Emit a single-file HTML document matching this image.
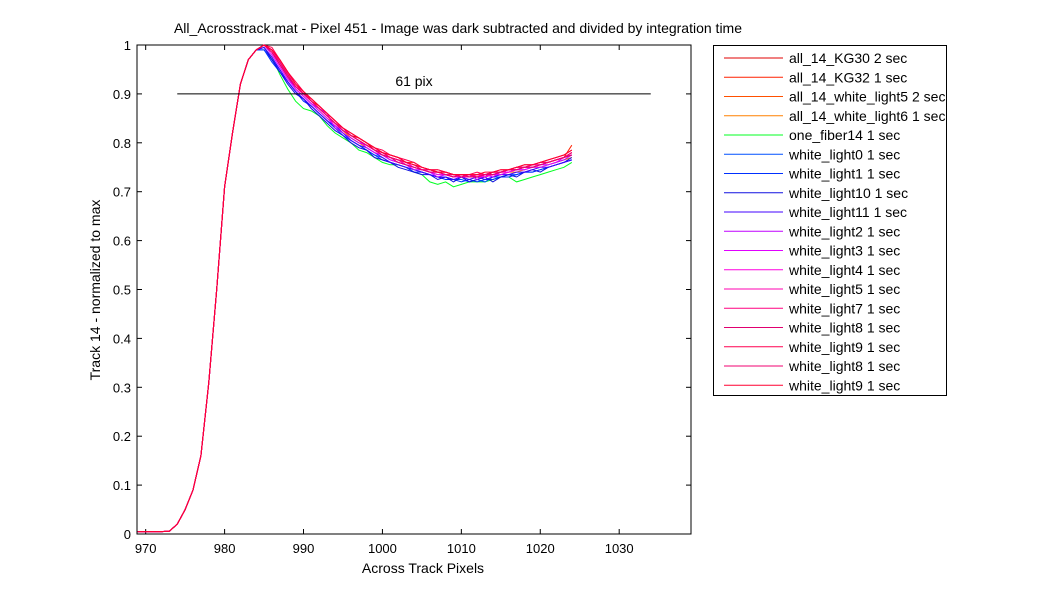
<!DOCTYPE html>
<html><head><meta charset="utf-8"><style>
html,body{margin:0;padding:0;background:#fff;}
svg{display:block;font-family:"Liberation Sans",Arial,sans-serif;}
</style></head><body>
<svg id="chart" width="1050" height="600" viewBox="0 0 1050 600">
<rect width="1050" height="600" fill="#fff"/>
<text x="458" y="33" font-size="14" text-anchor="middle">All_Acrosstrack.mat - Pixel 451 - Image was dark subtracted and divided by integration time</text>
<rect x="137" y="45" width="554" height="489" fill="#fff" stroke="#000" stroke-width="1"/>
<g id="ticks"></g>
<g id="series"></g>
<g id="annot"></g>
<text x="423" y="573" font-size="14" text-anchor="middle">Across Track Pixels</text>
<text x="100" y="290" font-size="14" text-anchor="middle" transform="rotate(-90 100 290)">Track 14 - normalized to max</text>
<rect x="713.5" y="45.5" width="233" height="350" fill="#fff" stroke="#000"/>
<g id="legend"></g>
</svg>
<script>
const xTicks=[970,980,990,1000,1010,1020,1030];
const yTicks=[0,0.1,0.2,0.3,0.4,0.5,0.6,0.7,0.8,0.9,1];
const yTickLabels=["0","0.1","0.2","0.3","0.4","0.5","0.6","0.7","0.8","0.9","1"];
const names=["all_14_KG30 2 sec","all_14_KG32 1 sec","all_14_white_light5 2 sec","all_14_white_light6 1 sec","one_fiber14 1 sec","white_light0 1 sec","white_light1 1 sec","white_light10 1 sec","white_light11 1 sec","white_light2 1 sec","white_light3 1 sec","white_light4 1 sec","white_light5 1 sec","white_light7 1 sec","white_light8 1 sec","white_light9 1 sec","white_light8 1 sec","white_light9 1 sec"];
const colors=["#e00000","#ff2000","#ff5000","#ff8000","#00ff20","#0050ff","#0030ff","#1010e0","#4000ff","#c000ff","#e000ff","#ff00e0","#ff00b0","#ff0080","#e00070","#ff0050","#f00070","#ff0030"];
const riseX=[969,970,971,972,973,974,975,976,977,978,979,980,981,982,983,984];
const rise=[0.005,0.005,0.005,0.005,0.006,0.02,0.05,0.09,0.16,0.31,0.5,0.71,0.82,0.92,0.97,0.99];
const tailStart=985;
const tails=[
[1.00,0.99,0.965,0.94,0.915,0.9,0.885,0.87,0.855,0.84,0.825,0.815,0.81,0.8,0.785,0.78,0.77,0.765,0.76,0.755,0.75,0.745,0.74,0.74,0.735,0.735,0.73,0.735,0.73,0.74,0.74,0.745,0.745,0.75,0.75,0.755,0.76,0.765,0.77,0.78],
[1.00,0.99,0.97,0.945,0.92,0.905,0.885,0.875,0.86,0.845,0.83,0.82,0.81,0.8,0.79,0.78,0.775,0.77,0.76,0.76,0.75,0.745,0.745,0.74,0.735,0.735,0.735,0.73,0.735,0.74,0.74,0.745,0.75,0.75,0.755,0.755,0.76,0.765,0.77,0.795],
[1.00,0.985,0.96,0.94,0.915,0.9,0.885,0.87,0.855,0.84,0.825,0.81,0.8,0.795,0.785,0.775,0.77,0.765,0.755,0.75,0.745,0.74,0.74,0.735,0.73,0.73,0.73,0.73,0.735,0.735,0.74,0.74,0.745,0.75,0.75,0.755,0.76,0.765,0.77,0.775],
[1.00,0.985,0.96,0.935,0.91,0.895,0.88,0.865,0.85,0.84,0.825,0.81,0.8,0.79,0.78,0.775,0.765,0.76,0.755,0.75,0.745,0.74,0.735,0.735,0.73,0.73,0.73,0.73,0.73,0.735,0.735,0.74,0.74,0.745,0.75,0.75,0.755,0.76,0.765,0.77],
[0.995,0.975,0.94,0.91,0.885,0.87,0.865,0.855,0.835,0.82,0.81,0.8,0.785,0.78,0.77,0.76,0.755,0.755,0.75,0.74,0.735,0.72,0.715,0.72,0.71,0.715,0.72,0.72,0.72,0.725,0.73,0.73,0.72,0.725,0.73,0.735,0.74,0.745,0.75,0.76],
[0.99,0.97,0.95,0.925,0.905,0.89,0.875,0.86,0.845,0.83,0.815,0.805,0.795,0.785,0.775,0.77,0.76,0.755,0.75,0.745,0.74,0.735,0.73,0.73,0.725,0.725,0.72,0.725,0.72,0.73,0.73,0.735,0.735,0.74,0.74,0.745,0.75,0.755,0.76,0.765],
[0.99,0.965,0.945,0.925,0.905,0.885,0.875,0.86,0.845,0.83,0.82,0.805,0.795,0.785,0.775,0.765,0.76,0.755,0.75,0.74,0.74,0.735,0.73,0.725,0.725,0.72,0.725,0.72,0.725,0.725,0.73,0.73,0.735,0.74,0.74,0.745,0.75,0.755,0.76,0.765],
[0.995,0.97,0.945,0.92,0.9,0.89,0.87,0.855,0.84,0.825,0.815,0.8,0.79,0.785,0.77,0.765,0.76,0.75,0.745,0.74,0.735,0.735,0.725,0.73,0.72,0.73,0.72,0.725,0.73,0.72,0.73,0.735,0.73,0.74,0.745,0.74,0.75,0.755,0.76,0.77],
[0.995,0.975,0.95,0.925,0.905,0.89,0.875,0.86,0.845,0.835,0.82,0.805,0.795,0.79,0.78,0.77,0.76,0.755,0.75,0.745,0.74,0.735,0.73,0.73,0.725,0.73,0.725,0.73,0.725,0.73,0.735,0.735,0.74,0.74,0.745,0.75,0.75,0.755,0.76,0.765],
[1.00,0.985,0.96,0.935,0.91,0.895,0.88,0.87,0.86,0.83,0.82,0.81,0.8,0.795,0.785,0.775,0.765,0.76,0.755,0.745,0.745,0.74,0.73,0.735,0.73,0.73,0.735,0.725,0.735,0.73,0.74,0.74,0.745,0.745,0.75,0.755,0.755,0.76,0.765,0.775],
[1.00,0.98,0.955,0.93,0.91,0.895,0.88,0.865,0.85,0.835,0.825,0.815,0.805,0.79,0.78,0.775,0.765,0.76,0.755,0.75,0.745,0.74,0.735,0.735,0.73,0.73,0.73,0.73,0.73,0.735,0.735,0.74,0.745,0.745,0.75,0.75,0.755,0.76,0.77,0.775],
[1.00,0.985,0.96,0.935,0.915,0.9,0.885,0.87,0.855,0.84,0.83,0.815,0.805,0.795,0.785,0.78,0.77,0.765,0.76,0.75,0.745,0.74,0.74,0.735,0.73,0.735,0.73,0.735,0.73,0.735,0.74,0.74,0.745,0.75,0.75,0.755,0.76,0.765,0.77,0.78],
[1.00,0.99,0.965,0.94,0.915,0.9,0.885,0.87,0.855,0.84,0.825,0.815,0.805,0.795,0.785,0.775,0.77,0.765,0.755,0.75,0.745,0.745,0.74,0.735,0.735,0.73,0.73,0.735,0.735,0.735,0.74,0.745,0.745,0.75,0.755,0.755,0.76,0.765,0.77,0.775],
[1.00,0.99,0.97,0.945,0.92,0.9,0.89,0.875,0.86,0.845,0.83,0.82,0.81,0.8,0.79,0.78,0.775,0.77,0.76,0.755,0.75,0.745,0.74,0.74,0.735,0.735,0.735,0.735,0.735,0.74,0.74,0.745,0.75,0.75,0.755,0.76,0.76,0.765,0.77,0.78],
[1.00,0.985,0.96,0.935,0.915,0.9,0.885,0.87,0.855,0.84,0.825,0.815,0.805,0.795,0.785,0.775,0.77,0.76,0.755,0.75,0.745,0.74,0.74,0.735,0.73,0.735,0.73,0.73,0.735,0.735,0.74,0.745,0.745,0.75,0.75,0.755,0.76,0.765,0.77,0.775],
[1.00,0.995,0.97,0.945,0.925,0.905,0.89,0.875,0.86,0.845,0.83,0.82,0.81,0.8,0.79,0.785,0.775,0.77,0.765,0.76,0.75,0.745,0.745,0.74,0.735,0.735,0.735,0.74,0.735,0.74,0.745,0.745,0.75,0.755,0.755,0.76,0.765,0.77,0.775,0.785],
[1.00,0.985,0.965,0.94,0.915,0.9,0.885,0.87,0.855,0.84,0.83,0.815,0.805,0.795,0.785,0.78,0.77,0.765,0.76,0.755,0.745,0.745,0.74,0.735,0.735,0.73,0.735,0.73,0.735,0.74,0.74,0.745,0.75,0.75,0.755,0.76,0.76,0.765,0.77,0.78],
[1.00,0.99,0.97,0.945,0.92,0.905,0.89,0.875,0.86,0.845,0.83,0.82,0.81,0.8,0.79,0.78,0.775,0.77,0.76,0.755,0.75,0.745,0.74,0.74,0.735,0.735,0.735,0.735,0.74,0.74,0.745,0.745,0.75,0.755,0.755,0.76,0.765,0.77,0.775,0.785]
];
const refLineX=[974,1034];
const refLineY=0.9;
const refLabel="61 pix";

const X0=137,X1=691,Y0=534,Y1=45,XMIN=968.9,XMAX=1039.1;
function sx(v){return X0+(v-XMIN)/(XMAX-XMIN)*(X1-X0);}
function sy(v){return Y0-(v-0)/(1-0)*(Y0-Y1);}
const NS="http://www.w3.org/2000/svg";
function mk(t,a){const e=document.createElementNS(NS,t);for(const k in a)e.setAttribute(k,a[k]);return e;}

const tg=document.getElementById('ticks');
xTicks.forEach((v,i)=>{
  const x=sx(v);
  const t1=mk('line',{x1:x,x2:x,y1:Y0,y2:Y0-5,stroke:'#000'});
  
  
  tg.appendChild(t1);
  const t2=mk('line',{x1:x,x2:x,y1:Y1,y2:Y1+5,stroke:'#000'});
  
  
  tg.appendChild(t2);
  const l=mk('text',{x:x,y:Y0+19,'font-size':13,'text-anchor':'middle'});
  
  
  l.textContent=String(v);tg.appendChild(l);
});
yTicks.forEach((v,i)=>{
  const y=sy(v);
  const t1=mk('line',{x1:X0,x2:X0+5,y1:y,y2:y,stroke:'#000'});
  
  
  tg.appendChild(t1);
  const t2=mk('line',{x1:X1,x2:X1-5,y1:y,y2:y,stroke:'#000'});
  
  
  tg.appendChild(t2);
  const l=mk('text',{x:X0-6,y:y+5,'font-size':13,'text-anchor':'end'});
  
  
  l.textContent=yTickLabels[i];tg.appendChild(l);
});

const sg=document.getElementById('series');
tails.forEach((tail,si)=>{
  const pts=[];
  riseX.forEach((x,i)=>pts.push(sx(x).toFixed(1)+','+sy(rise[i]).toFixed(1)));
  tail.forEach((v,i)=>pts.push(sx(tailStart+i).toFixed(1)+','+sy(v).toFixed(1)));
  const p=mk('polyline',{points:pts.join(' '),fill:'none',stroke:colors[si],'stroke-width':1});
  
  
  sg.appendChild(p);
});

const ag=document.getElementById('annot');
const rl=mk('line',{x1:sx(refLineX[0]),x2:sx(refLineX[1]),y1:sy(refLineY),y2:sy(refLineY),stroke:'#000'});


ag.appendChild(rl);
const rt=mk('text',{x:(sx(refLineX[0])+sx(refLineX[1]))/2,y:sy(refLineY)-8,'font-size':14,'text-anchor':'middle'});


rt.textContent=refLabel;ag.appendChild(rt);

const lg=document.getElementById('legend');
names.forEach((n,i)=>{
  const y=58+i*19.25;
  const ln=mk('line',{x1:724,x2:783,y1:y,y2:y,stroke:colors[i]});
  
  
  lg.appendChild(ln);
  const t=mk('text',{x:789,y:y+5,'font-size':14});
  
  
  t.textContent=n;lg.appendChild(t);
});
</script>
</body></html>
